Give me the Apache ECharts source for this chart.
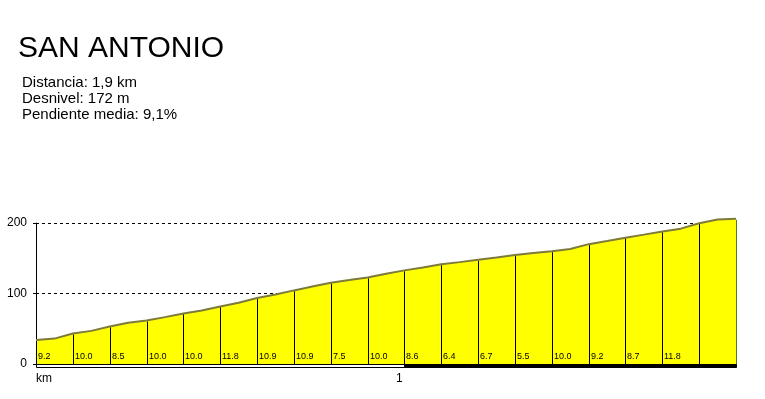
<!DOCTYPE html>
<html>
<head>
<meta charset="utf-8">
<script src="https://cdn.jsdelivr.net/npm/echarts@6/dist/echarts.min.js"></script>
<style>
  html, body { margin: 0; padding: 0; background: #fff; }
  #main { width: 765px; height: 399px; }
</style>
</head>
<body>
<div id="main"></div>
<script>
// distancia (km) y altitud relativa (m) del perfil
const distKm = [0, 0.05, 0.1, 0.15, 0.2, 0.25, 0.3, 0.35, 0.4, 0.45, 0.5, 0.55, 0.6, 0.65, 0.7, 0.75,
  0.8, 0.85, 0.9, 0.95, 1.0, 1.05, 1.1, 1.15, 1.2, 1.25, 1.3, 1.35, 1.4, 1.45, 1.5, 1.55, 1.6, 1.65,
  1.7, 1.75, 1.8, 1.85, 1.9]
const altitude = [34, 36, 43.2, 47, 53.2, 58.5, 61.7, 66.5, 71.7, 76, 81.7, 87, 93.5, 98.6, 104.4, 110,
  115.3, 119, 122.8, 128, 132.8, 137, 141.4, 144.5, 147.8, 151, 154.5, 157.5, 160, 163, 170, 174.5, 179.2, 183.5,
  187.9, 192, 199.7, 205, 206]

// tramos de 100 m con su pendiente (%)
const segmentKm = [0, 0.1, 0.2, 0.3, 0.4, 0.5, 0.6, 0.7, 0.8, 0.9, 1.0, 1.1, 1.2, 1.3, 1.4, 1.5, 1.6, 1.7, 1.8, 1.9]
const gradients = ['9.2', '10.0', '8.5', '10.0', '10.0', '11.8', '10.9', '10.9', '7.5', '10.0',
  '8.6', '6.4', '6.7', '5.5', '10.0', '9.2', '8.7', '11.8', '', '']

// barra de escala (km)
const kmBands = [[0, 1, 'white'], [1, 1.9, 'black']]

const yTicks = [0, 100, 200]

const font = 'Liberation Sans, Arial, sans-serif'
const last = distKm.length - 1

const profileData = distKm.map((d, i) => [d, altitude[i]])
const segmentData = segmentKm.map(km => {
  const i = distKm.findIndex(d => Math.abs(d - km) < 1e-6)
  return [km, altitude[i]]
})

const myChart = echarts.init(document.getElementById('main'), null, { renderer: 'canvas' })

myChart.setOption({
  animation: false,
  backgroundColor: '#fff',
  title: [
    {
      text: 'SAN ANTONIO',
      left: 18, top: 34, padding: 0,
      textStyle: { fontFamily: font, fontSize: 30, fontWeight: 'normal', color: '#000', lineHeight: 30 }
    },
    {
      text: 'Distancia: 1,9 km\nDesnivel: 172 m\nPendiente media: 9,1%',
      left: 22, top: 75, padding: 0,
      textStyle: { fontFamily: font, fontSize: 15, fontWeight: 'normal', color: '#000', lineHeight: 16 }
    }
  ],
  grid: { left: 36, right: 29, top: 223, bottom: 35 },
  xAxis: {
    type: 'value',
    min: 0,
    max: 1.9,
    interval: 1,
    axisLine: { show: true, lineStyle: { color: '#000', width: 1 } },
    axisTick: { show: false },
    splitLine: { show: false },
    axisLabel: {
      margin: 9,
      color: '#000',
      fontFamily: font,
      fontSize: 12,
      padding: [0, 10, 0, 0],
      showMaxLabel: false,
      alignMinLabel: 'left',
      formatter: v => (v === 0 ? 'km' : String(v))
    }
  },
  yAxis: {
    type: 'value',
    min: yTicks[0],
    max: yTicks[yTicks.length - 1],
    interval: 100,
    axisLine: { show: true, lineStyle: { color: '#000', width: 1 } },
    axisTick: { show: true, length: 3, lineStyle: { color: '#000' } },
    splitLine: { show: true, lineStyle: { color: '#000', type: [3, 3], width: 1 } },
    axisLabel: { margin: 9, color: '#000', fontFamily: font, fontSize: 12 }
  },
  series: [
    {
      name: 'perfil',
      type: 'line',
      data: profileData,
      symbol: 'none',
      clip: false,
      z: 2,
      lineStyle: { color: '#7d7b3a', width: 2 },
      areaStyle: { color: '#ffff00', opacity: 1 },
      markPoint: {
        symbol: 'circle',
        symbolSize: 0,
        data: [{ coord: [distKm[last], altitude[last]], value: altitude[last] }],
        label: {
          show: true,
          position: 'right',
          distance: 4,
          offset: [0, -10],
          color: '#a0303a',
          fontFamily: font,
          fontSize: 12,
          formatter: '{c}'
        }
      }
    },
    {
      name: 'tramos',
      type: 'custom',
      data: segmentData,
      clip: false,
      z: 3,
      renderItem: (params, api) => {
        const km = api.value(0)
        const alt = api.value(1)
        const base = api.coord([km, 0])
        const top = api.coord([km, alt])
        const x = Math.round(base[0]) + 0.5
        const isEnd = params.dataIndex === segmentKm.length - 1
        const children = [{
          type: 'line',
          shape: { x1: x, y1: base[1], x2: x, y2: top[1] + 1 },
          style: { stroke: isEnd ? '#4f7a2a' : '#000', lineWidth: 1 }
        }]
        const label = gradients[params.dataIndex]
        if (label) {
          children.push({
            type: 'text',
            x: x + 1.5,
            y: base[1] - 3,
            style: {
              text: label,
              fill: '#000',
              font: '9px ' + font,
              textAlign: 'left',
              textVerticalAlign: 'bottom'
            }
          })
        }
        return { type: 'group', children }
      }
    },
    {
      name: 'escala',
      type: 'custom',
      data: kmBands,
      clip: false,
      z: 4,
      renderItem: (params, api) => {
        const a = api.coord([api.value(0), 0])
        const b = api.coord([api.value(1), 0])
        const fill = kmBands[params.dataIndex][2]
        return {
          type: 'rect',
          shape: { x: Math.round(a[0]) + 0.5, y: Math.round(a[1]) + 0.5, width: Math.round(b[0] - a[0]), height: 3 },
          style: { fill, stroke: '#000', lineWidth: 1 }
        }
      }
    }
  ]
})
</script>
</body>
</html>
